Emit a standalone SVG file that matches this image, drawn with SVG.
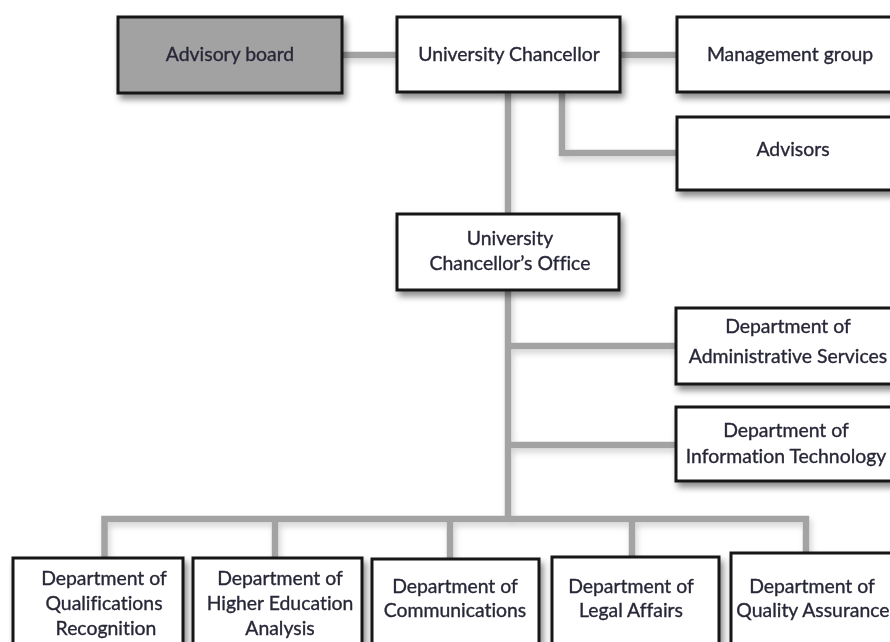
<svg xmlns="http://www.w3.org/2000/svg" width="890" height="642" viewBox="0 0 890 642">
  <defs>
    <filter id="shadow" x="-20%" y="-20%" width="150%" height="160%">
      <feDropShadow dx="3" dy="5" stdDeviation="3" flood-color="#000" flood-opacity="0.45"/>
    </filter>
    <filter id="lineShadow" x="-20%" y="-20%" width="150%" height="160%">
      <feDropShadow dx="2" dy="4" stdDeviation="3" flood-color="#000" flood-opacity="0.18"/>
    </filter>
  </defs>
  <style>
    .box { fill: #ffffff; stroke: #151515; stroke-width: 3; }
    .box.dark { fill: #a2a2a2; }
    .lbl { font-family: Lato, "Liberation Sans", sans-serif; font-size: 19.4px; fill: #282838; stroke: #282838; stroke-width: 0.35; text-anchor: middle; font-feature-settings: "liga" 0; font-variant-ligatures: none; }
    .conn { fill: none; stroke: #a3a3a3; stroke-width: 6.5; stroke-linejoin: miter; stroke-linecap: butt; }
  </style>
  <rect width="890" height="642" fill="#ffffff"/>

  <!-- connectors -->
  <g id="connectors" filter="url(#lineShadow)">
    <path class="conn" d="M342 55 H397"/>
    <path class="conn" d="M620 55 H677"/>
    <path class="conn" d="M562 92 V153 H677"/>
    <path class="conn" d="M508 92 V214"/>
    <path class="conn" d="M508 290 V519"/>
    <path class="conn" d="M508 346 H676"/>
    <path class="conn" d="M508 445 H676"/>
    <path class="conn" d="M104.5 558 V519 H806 V553"/>
    <path class="conn" d="M275 519 V558"/>
    <path class="conn" d="M450 519 V559"/>
    <path class="conn" d="M632 519 V557"/>
  </g>

  <!-- top row -->
  <g id="advisory-board" filter="url(#shadow)">
    <rect class="box dark" x="118" y="17" width="224" height="76"/>
    <text class="lbl" x="230" y="61">Advisory board</text>
  </g>
  <g id="university-chancellor" filter="url(#shadow)">
    <rect class="box" x="397" y="17" width="223" height="75"/>
    <text class="lbl" x="509" y="61">University Chancellor</text>
  </g>
  <g id="management-group" filter="url(#shadow)">
    <rect class="box" x="677" y="17" width="230" height="75"/>
    <text class="lbl" x="790" y="61">Management group</text>
  </g>
  <g id="advisors" filter="url(#shadow)">
    <rect class="box" x="677" y="117" width="230" height="73"/>
    <text class="lbl" x="793" y="156">Advisors</text>
  </g>

  <!-- office -->
  <g id="chancellors-office" filter="url(#shadow)">
    <rect class="box" x="397" y="214" width="222" height="76"/>
    <text class="lbl" x="510" y="245">University</text>
    <text class="lbl" x="510" y="270">Chancellor’s Office</text>
  </g>

  <!-- side departments -->
  <g id="dept-administrative-services" filter="url(#shadow)">
    <rect class="box" x="676" y="308" width="230" height="76"/>
    <text class="lbl" x="788" y="333">Department of</text>
    <text class="lbl" x="788" y="363">Administrative Services</text>
  </g>
  <g id="dept-information-technology" filter="url(#shadow)">
    <rect class="box" x="676" y="407" width="230" height="74"/>
    <text class="lbl" x="786" y="437">Department of</text>
    <text class="lbl" x="786" y="463">Information Technology</text>
  </g>

  <!-- bottom row -->
  <g id="dept-qualifications-recognition" filter="url(#shadow)">
    <rect class="box" x="13" y="558" width="170" height="100"/>
    <text class="lbl" x="104" y="585">Department of</text>
    <text class="lbl" x="104" y="610">Qualifications</text>
    <text class="lbl" x="106" y="635">Recognition</text>
  </g>
  <g id="dept-higher-education-analysis" filter="url(#shadow)">
    <rect class="box" x="193" y="558" width="169" height="100"/>
    <text class="lbl" x="280" y="585">Department of</text>
    <text class="lbl" x="280" y="610">Higher Education</text>
    <text class="lbl" x="280" y="635">Analysis</text>
  </g>
  <g id="dept-communications" filter="url(#shadow)">
    <rect class="box" x="372" y="559" width="167" height="100"/>
    <text class="lbl" x="455" y="593">Department of</text>
    <text class="lbl" x="455" y="617">Communications</text>
  </g>
  <g id="dept-legal-affairs" filter="url(#shadow)">
    <rect class="box" x="552" y="557" width="167" height="100"/>
    <text class="lbl" x="631" y="593">Department of</text>
    <text class="lbl" x="631" y="617">Legal Affairs</text>
  </g>
  <g id="dept-quality-assurance" filter="url(#shadow)">
    <rect class="box" x="731" y="553" width="180" height="100"/>
    <text class="lbl" x="812" y="593">Department of</text>
    <text class="lbl" x="813" y="617">Quality Assurance</text>
  </g>
</svg>
